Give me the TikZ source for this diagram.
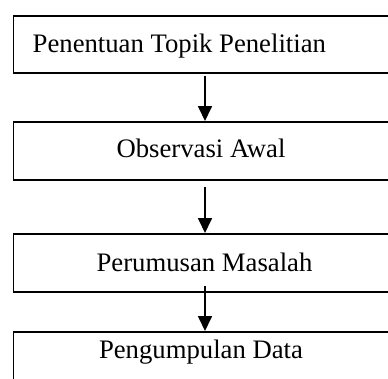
\documentclass[tikz,border=0pt]{standalone}
\usepackage{fontspec}
\setmainfont{Liberation Serif}
\usetikzlibrary{arrows.meta}
\begin{document}
\begin{tikzpicture}[x=1pt,y=1pt,
  stepbox/.style={draw=black, line width=1.5pt, rectangle, inner sep=0pt,
    minimum width=400pt, anchor=north west},
  label/.style={inner sep=0pt, font=\fontsize{26.7}{32}\selectfont},
  flow/.style={line width=1.7pt, -{Triangle[width=14pt,length=15pt]}}]
\useasboundingbox (0,0) rectangle (388,-378);
\clip (0,0) rectangle (388,-378);
% process boxes (they run past the right edge)
\node[stepbox, minimum height=57pt] (b1) at (12.5,-15) {};
\node[stepbox, minimum height=58pt] (b2) at (12.5,-121) {};
\node[stepbox, minimum height=58pt] (b3) at (12.5,-233) {};
\node[stepbox, minimum height=58pt] (b4) at (12.5,-331) {};
% box texts
\node[label, anchor=base west] (t1) at (32.5,-52) {Penentuan Topik Penelitian};
\node[label, anchor=base] (t2) at (201,-157.7) {Observasi Awal};
\node[label, anchor=base] (t3) at (204.5,-271.7) {Perumusan Masalah};
\node[label, anchor=base] (t4) at (201,-358.3) {Pengumpulan Data};
% connectors
\coordinate (ax) at (205,0);
\draw[flow] ([yshift=-2pt]b1.south -| ax) -- (b2.north -| ax);
\draw[flow] ([yshift=-6pt]b2.south -| ax) -- (b3.north -| ax);
\draw[flow] ([yshift=7pt]b3.south -| ax) -- (b4.north -| ax);
\end{tikzpicture}
\end{document}
